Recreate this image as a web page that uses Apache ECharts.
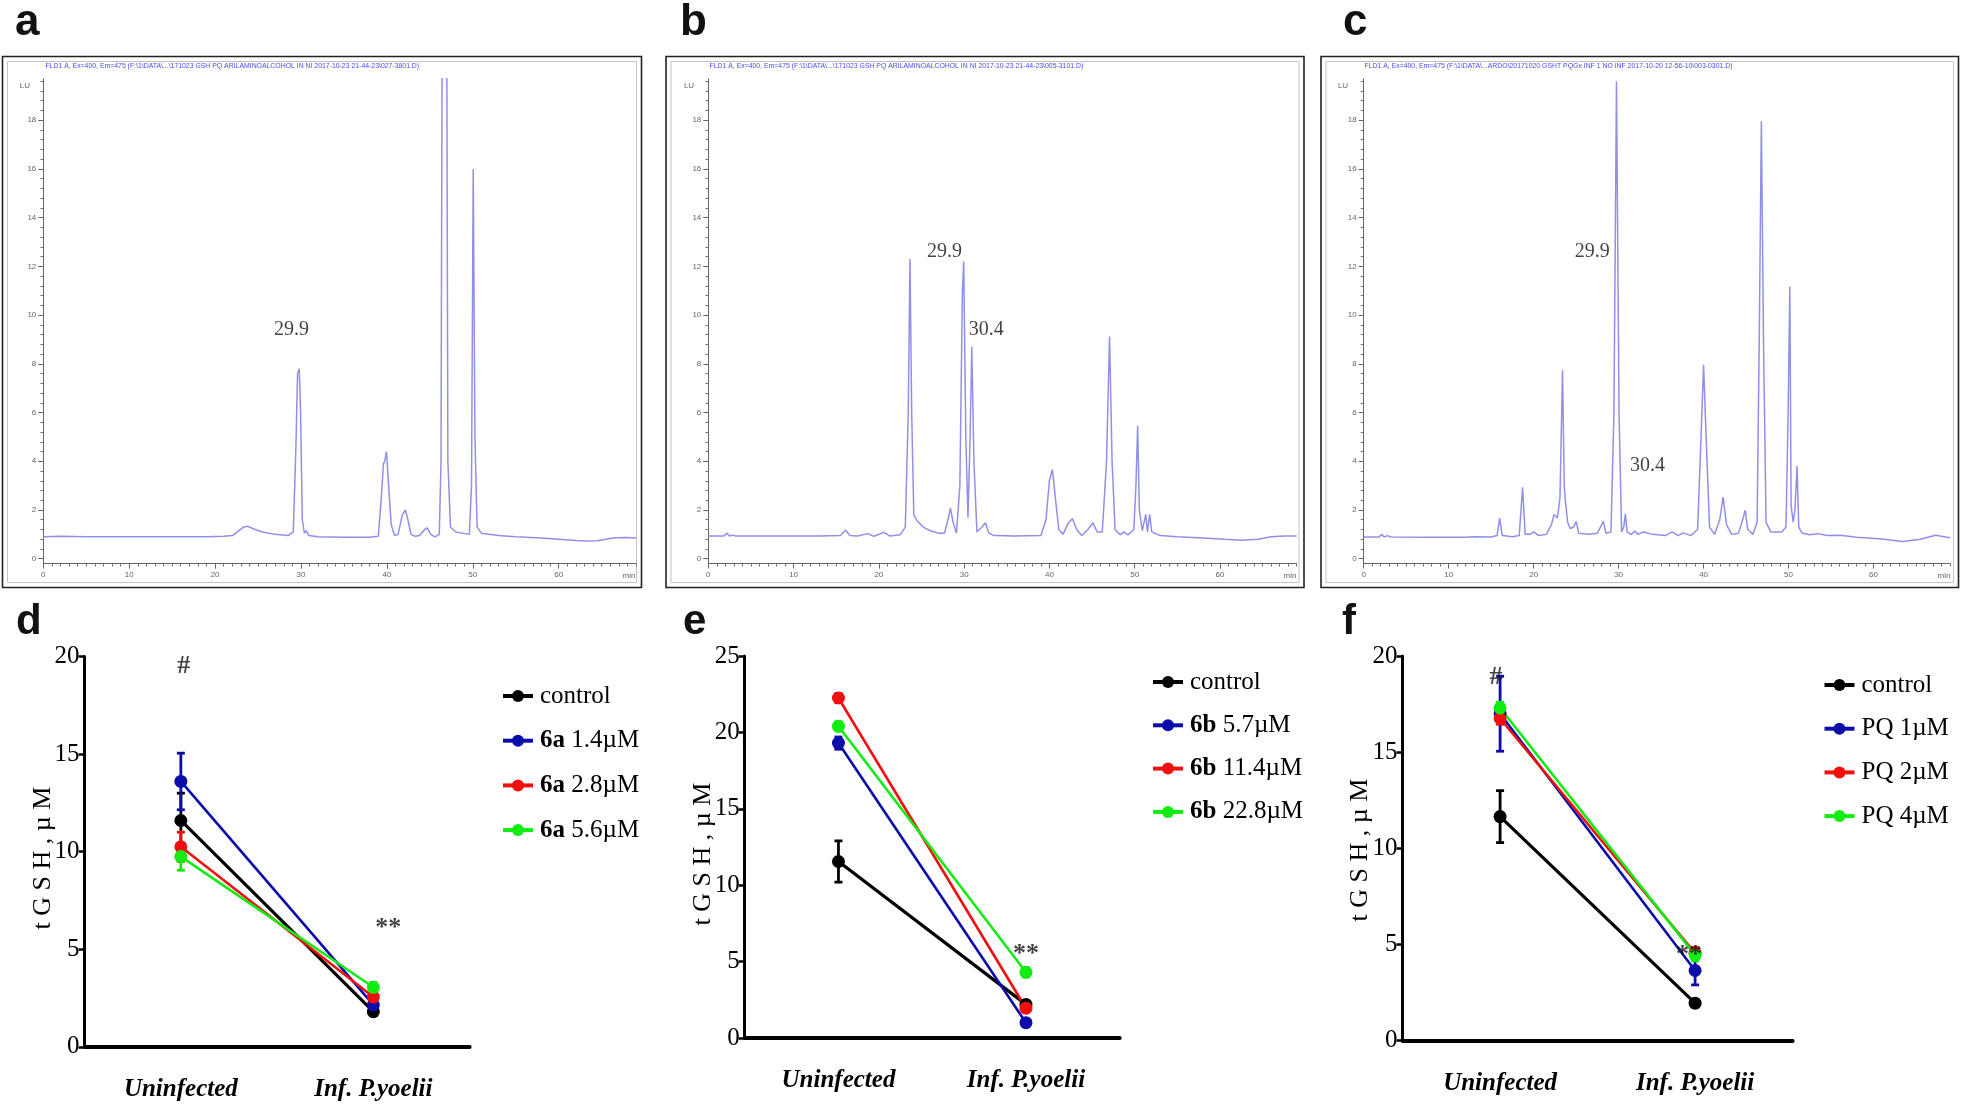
<!DOCTYPE html>
<html><head><meta charset="utf-8">
<script src="https://cdn.jsdelivr.net/npm/echarts@6/dist/echarts.min.js"></script>
<style>html,body{margin:0;padding:0;background:#fff}#c{width:1961px;height:1109px}</style>
</head><body><div id="c"></div>
<script>
// ---------- chromatogram traces: [time (min), signal (LU)] ----------
const chromA = [[0,0.9],[2,0.92],[5,0.9],[10,0.9],[15,0.9],[19,0.9],[21,0.92],[22,0.95],[22.6,1.1],[23.3,1.3],[23.8,1.33],[24.5,1.22],[25.5,1.1],[27,1.0],[28.5,0.95],[29.1,1.1],[29.4,4.5],[29.6,7.6],[29.8,7.8],[29.95,6],[30.15,1.6],[30.4,1.05],[30.6,1.15],[30.9,0.95],[32,0.9],[35,0.88],[38,0.88],[39,0.92],[39.35,2.5],[39.6,3.9],[39.75,4.0],[39.95,4.4],[40.2,3.0],[40.5,1.4],[40.9,0.95],[41.3,1.0],[41.8,1.8],[42.15,2.0],[42.45,1.6],[42.8,1.0],[43.3,0.92],[43.8,0.95],[44.4,1.2],[44.7,1.27],[45.1,1.0],[45.6,0.9],[46.1,1.0],[46.3,4],[46.45,24],[46.95,24],[47.1,4],[47.4,1.3],[48,1.1],[49.6,1.0],[49.85,3],[50.05,16],[50.25,5],[50.5,1.3],[51,1.05],[53,0.95],[55,0.9],[58,0.85],[60,0.8],[62,0.75],[63.2,0.73],[64.5,0.74],[65.5,0.8],[66.5,0.86],[68,0.87],[69,0.85]];
const chromB = [[0,0.93],[1.8,0.93],[2.2,1.05],[2.5,0.93],[2.8,0.97],[3.2,0.93],[8,0.93],[13,0.93],[15.5,0.95],[16.1,1.18],[16.6,0.95],[17.5,0.93],[18.7,1.03],[19.4,0.92],[20.6,1.08],[21.3,0.93],[22.5,0.98],[23.1,1.3],[23.45,6],[23.65,12.3],[23.85,6],[24.1,1.8],[24.5,1.55],[25.2,1.3],[26,1.15],[27,1.05],[27.7,1.05],[28.1,1.6],[28.4,2.08],[28.7,1.5],[29.1,1.05],[29.5,3],[29.8,11],[29.95,12.2],[30.2,5],[30.45,1.68],[30.7,5],[30.9,8.7],[31.15,4],[31.5,1.1],[32.1,1.3],[32.5,1.48],[32.9,1.05],[33.5,0.95],[36,0.93],[39,0.95],[39.6,1.6],[40.0,3.2],[40.35,3.66],[40.7,2.5],[41.1,1.2],[41.6,1.0],[42.2,1.45],[42.7,1.65],[43.2,1.2],[43.8,0.95],[44.5,1.2],[45.1,1.47],[45.6,1.1],[46.2,1.1],[46.7,4],[47.05,9.12],[47.35,4],[47.7,1.2],[48.3,0.98],[48.7,1.1],[49.2,0.98],[49.9,1.2],[50.15,3],[50.35,5.46],[50.55,2],[50.9,1.15],[51.3,1.82],[51.5,1.1],[51.75,1.82],[52.0,1.1],[53,0.95],[55,0.9],[58,0.85],[60.5,0.8],[62.6,0.76],[64.5,0.8],[66,0.9],[67.5,0.93],[69,0.93]];
const chromC = [[0,0.89],[1.8,0.89],[2.1,1.0],[2.4,0.89],[2.8,0.95],[3.2,0.89],[8,0.88],[12,0.88],[13,0.9],[15,0.89],[15.7,0.95],[16.0,1.67],[16.3,0.95],[17.5,0.9],[18.3,0.95],[18.7,2.93],[19.0,1.0],[19.6,1.0],[20.0,1.1],[20.6,0.95],[21.5,1.0],[22.1,1.4],[22.4,1.81],[22.8,1.67],[23.1,2.5],[23.4,7.74],[23.6,3],[23.75,2.31],[24.0,1.5],[24.3,1.24],[24.7,1.3],[25.0,1.53],[25.3,1.05],[26.5,1.0],[27.5,1.05],[28.2,1.53],[28.5,1.05],[29.1,1.1],[29.45,6],[29.75,19.6],[30.05,6],[30.35,1.1],[30.6,1.3],[30.8,1.84],[31.0,1.1],[31.5,1.0],[31.9,1.14],[32.3,1.0],[32.9,1.1],[34,1.0],[35.5,0.95],[36.3,1.1],[37.0,0.95],[37.6,1.06],[38.5,0.95],[39.3,1.2],[39.7,5],[40.0,7.96],[40.3,5],[40.7,1.3],[41.3,1.0],[41.9,1.6],[42.3,2.53],[42.7,1.4],[43.3,1.0],[44.1,1.05],[44.6,1.6],[44.9,1.99],[45.2,1.2],[45.8,1.0],[46.3,1.5],[46.55,9],[46.8,17.96],[47.05,9],[47.35,1.5],[47.9,1.1],[49.2,1.1],[49.7,1.3],[49.95,6],[50.15,11.17],[50.3,2.17],[50.55,1.5],[50.75,2],[51.0,3.81],[51.2,1.3],[51.6,1.05],[52.5,0.98],[53.5,1.03],[54.5,0.95],[56.1,0.96],[58,0.88],[61,0.81],[63.4,0.71],[65.5,0.8],[67.3,0.96],[69,0.86]];

const chromXTicks = [0,10,20,30,40,50,60];
const chromYTicks = [0,2,4,6,8,10,12,14,16,18];
const peakLabelsA = [[28.9, 9.4, '29.9']];
const peakLabelsB = [[27.7, 12.6, '29.9'], [32.6, 9.4, '30.4']];
const peakLabelsC = [[26.9, 12.6, '29.9'], [33.4, 3.8, '30.4']];
const headerA = 'FLD1 A, Ex=400, Em=475 (F:\\1\\DATA\\...\\171023 GSH PQ ARILAMINOALCOHOL IN NI 2017-10-23 21-44-23\\027-3801.D)';
const headerB = 'FLD1 A, Ex=400, Em=475 (F:\\1\\DATA\\...\\171023 GSH PQ ARILAMINOALCOHOL IN NI 2017-10-23 21-44-23\\005-3101.D)';
const headerC = 'FLD1 A, Ex=400, Em=475 (F:\\1\\DATA\\...ARDO\\20171020 GSHT PQGx INF 1 NO INF 2017-10-20 12-56-10\\003-0301.D)';

// ---------- tGSH panels ----------
const categories = ['Uninfected', 'Inf. P.yoelii'];
const yTitle = 't G S H , \u00b5 M';

const legendD = ['control', '6a 1.4\u00b5M', '6a 2.8\u00b5M', '6a 5.6\u00b5M'];
const meanD = [[11.6, 1.8], [13.6, 2.15], [10.25, 2.55], [9.75, 3.05]];
const errD  = [[1.4, 0.2], [1.45, 0.25], [0.75, 0.25], [0.7, 0.25]];
const annD  = [['#', 0, 19.5], ['**', 1, 6.1]];

const legendE = ['control', '6b 5.7\u00b5M', '6b 11.4\u00b5M', '6b 22.8\u00b5M'];
const meanE = [[11.55, 2.2], [19.3, 1.0], [22.25, 1.95], [20.4, 4.3]];
const errE  = [[1.35, 0.2], [0.4, 0.2], [0.3, 0.25], [0.3, 0.3]];
const annE  = [['**', 1, 5.45]];

const legendF = ['control', 'PQ 1\u00b5M', 'PQ 2\u00b5M', 'PQ 4\u00b5M'];
const meanF = [[11.65, 1.95], [17.0, 3.65], [16.75, 4.55], [17.3, 4.45]];
const errF  = [[1.35, 0.2], [1.95, 0.75], [0.3, 0.3], [0.3, 0.3]];
const annF  = [['#', 0, 18.9], ['**', 1, 4.45]];

// ---------- styling / layout ----------
const SERIF = 'Liberation Serif';
const SANS = 'Liberation Sans';
const seriesColors = ['#000000', '#0c0caa', '#f01010', '#12ec12'];
const lineWidths = [3.2, 2.6, 2.6, 2.6];
const chromColor = '#9090e8';
const chromTop = 78.8, chromBottom = 563.6;
const chromLayout = [
  {data: chromA, labels: peakLabelsA, header: headerA, left: 43.3, right: 636, frame: [2.5, 56.5, 639, 531], letter: 'a', lx: 15, hx: 45.4, lux: 24.8, minx: 629},
  {data: chromB, labels: peakLabelsB, header: headerB, left: 708.3, right: 1296.7, frame: [666, 56.5, 638, 531], letter: 'b', lx: 680, hx: 709.5, lux: 689, minx: 1290},
  {data: chromC, labels: peakLabelsC, header: headerC, left: 1363.7, right: 1950, frame: [1321, 56.5, 637.5, 531], letter: 'c', lx: 1343, hx: 1364.5, lux: 1343, minx: 1944}
];
const panelLayout = [
  {key: 'd', legend: legendD, mean: meanD, err: errD, ann: annD, annDx: [3, 15], ymax: 20, left: 84.6, top: 656.6, width: 385, height: 390.2, legLeft: 496, legTop: 678, legGap: 18.7, yt: [43, 858], lx: 16, boldPrefix: true},
  {key: 'e', legend: legendE, mean: meanE, err: errE, ann: annE, annDx: [0], ymax: 25, left: 744.7, top: 656, width: 375, height: 382, legLeft: 1146, legTop: 664, legGap: 17.3, yt: [703, 854], lx: 683, boldPrefix: true},
  {key: 'f', legend: legendF, mean: meanF, err: errF, ann: annF, annDx: [-4, -6], ymax: 20, left: 1402.6, top: 656, width: 390, height: 384.7, legLeft: 1817.5, legTop: 667, legGap: 17.7, yt: [1360, 850], lx: 1342, boldPrefix: false}
];

const minorX = [];
for (let t = 0; t <= 69; t++) if (t % 10 !== 0) minorX.push(t);
const minorY = [];
for (let k = 0; k <= 49; k++) if (k % 5 !== 0) minorY.push(+(k * 0.4).toFixed(1));

const grids = [], xAxes = [], yAxes = [], series = [], legends = [], graphics = [];

chromLayout.forEach(c => grids.push({left: c.left, top: chromTop, width: c.right - c.left, height: chromBottom - chromTop}));
panelLayout.forEach(p => grids.push({left: p.left, top: p.top, width: p.width, height: p.height}));

chromLayout.forEach((c, i) => {
  xAxes.push({gridIndex: i, type: 'value', min: 0, max: 69, position: 'bottom',
    axisLine: {onZero: false, lineStyle: {color: '#666', width: 1}},
    axisTick: {customValues: chromXTicks, length: 5, lineStyle: {color: '#666'}},
    axisLabel: {customValues: chromXTicks, fontSize: 8, color: '#666', margin: 7, fontFamily: SANS},
    splitLine: {show: false}});
  yAxes.push({gridIndex: i, type: 'value', min: -0.2, max: 19.7, position: 'left',
    axisLine: {show: true, onZero: false, lineStyle: {color: '#666', width: 1}},
    axisTick: {show: true, customValues: chromYTicks, length: 5, lineStyle: {color: '#666'}},
    axisLabel: {customValues: chromYTicks, fontSize: 8, color: '#666', margin: 7, fontFamily: SANS},
    splitLine: {show: false}});
});
chromLayout.forEach((c, i) => {
  xAxes.push({gridIndex: i, type: 'value', min: 0, max: 69, position: 'bottom',
    axisLine: {show: false, onZero: false}, axisLabel: {show: false},
    axisTick: {show: true, customValues: minorX, length: 3, lineStyle: {color: '#777'}},
    splitLine: {show: false}});
  yAxes.push({gridIndex: i, type: 'value', min: -0.2, max: 19.7, position: 'left',
    axisLine: {show: false, onZero: false}, axisLabel: {show: false},
    axisTick: {show: true, customValues: minorY, length: 3, lineStyle: {color: '#777'}},
    splitLine: {show: false}});
});
chromLayout.forEach((c, i) => {
  series.push({type: 'line', xAxisIndex: i, yAxisIndex: i, data: c.data, showSymbol: false, symbol: 'none',
    lineStyle: {color: chromColor, width: 1.5}, clip: true, silent: true, z: 2});
  series.push({type: 'scatter', xAxisIndex: i, yAxisIndex: i, symbolSize: 0, silent: true, z: 5,
    data: c.labels.map(l => ({value: [l[0], l[1]], label: {show: true, formatter: l[2], position: 'inside',
      fontFamily: SERIF, fontSize: 20, color: '#111'}}))});
  const [fx, fy, fw, fh] = c.frame;
  graphics.push({type: 'rect', shape: {x: fx, y: fy, width: fw, height: fh}, style: {fill: 'none', stroke: '#222', lineWidth: 1.6}, silent: true});
  graphics.push({type: 'rect', shape: {x: fx + 5, y: fy + 5, width: fw - 10, height: fh - 10}, style: {fill: 'none', stroke: '#c4c4c4', lineWidth: 1}, silent: true});
  graphics.push({type: 'text', x: c.hx, y: 65.7, scaleX: 0.86, style: {text: c.header, fill: '#4a4af0', font: '8px ' + SANS, verticalAlign: 'middle', align: 'left'}, silent: true});
  graphics.push({type: 'text', x: c.lux, y: 85.8, style: {text: 'LU', fill: '#666', font: '8px ' + SANS, verticalAlign: 'middle', align: 'center'}, silent: true});
  graphics.push({type: 'text', x: c.minx, y: 576, style: {text: 'min', fill: '#666', font: '8px ' + SANS, verticalAlign: 'middle', align: 'center'}, silent: true});
  graphics.push({type: 'text', x: c.lx, y: 23, style: {text: c.letter, fill: '#111', font: 'bold 44px ' + SANS, verticalAlign: 'middle', align: 'left'}, silent: true});
});

function errRender(params, api) {
  const x = api.value(0), lo = api.value(2), hi = api.value(3);
  const pHi = api.coord([x, hi]), pLo = api.coord([x, lo]);
  const color = api.visual('color');
  const cap = 4;
  const st = {stroke: color, lineWidth: 2.8};
  return {type: 'group', children: [
    {type: 'line', shape: {x1: pHi[0], y1: pHi[1], x2: pLo[0], y2: pLo[1]}, style: st},
    {type: 'line', shape: {x1: pHi[0] - cap, y1: pHi[1], x2: pHi[0] + cap, y2: pHi[1]}, style: st},
    {type: 'line', shape: {x1: pLo[0] - cap, y1: pLo[1], x2: pLo[0] + cap, y2: pLo[1]}, style: st}
  ]};
}

panelLayout.forEach((p, j) => {
  const gi = 3 + j;
  const axIdx = 6 + j;
  xAxes.push({gridIndex: gi, type: 'category', data: categories, boundaryGap: true, position: 'bottom',
    axisLine: {lineStyle: {color: '#000', width: 4}},
    axisTick: {alignWithLabel: true, length: 10, lineStyle: {color: '#000', width: 3}},
    axisLabel: {fontFamily: SERIF, fontStyle: 'italic', fontWeight: 'bold', fontSize: 25, color: '#000', margin: 30}});
  yAxes.push({gridIndex: gi, type: 'value', min: 0, max: p.ymax, interval: 5, position: 'left',
    axisLine: {show: true, lineStyle: {color: '#000', width: 3}},
    axisTick: {show: true, length: 6, lineStyle: {color: '#000', width: 2.5}},
    axisLabel: {fontFamily: SERIF, fontSize: 25, color: '#000', margin: 5},
    splitLine: {show: false}});
  const names = p.legend.map(n => p.key + ':' + n);
  p.mean.forEach((vals, s) => {
    const e = p.err[s];
    series.push({type: 'custom', xAxisIndex: axIdx, yAxisIndex: axIdx, renderItem: errRender,
      itemStyle: {color: seriesColors[s]}, encode: {x: 0, y: 1}, silent: true, z: 3,
      data: vals.map((v, k) => [k, v, v - e[k], v + e[k]])});
    series.push({type: 'line', name: names[s], xAxisIndex: axIdx, yAxisIndex: axIdx, data: vals,
      symbol: 'circle', symbolSize: 13, showSymbol: true,
      itemStyle: {color: seriesColors[s]}, lineStyle: {color: seriesColors[s], width: lineWidths[s]}, z: 3});
  });
  series.push({type: 'scatter', xAxisIndex: axIdx, yAxisIndex: axIdx, symbolSize: 0, silent: true, z: 6,
    data: p.ann.map((a, k) => ({value: [a[1], a[2]], label: {show: true, formatter: a[0], position: 'inside',
      offset: [p.annDx[k], 0], fontFamily: SERIF, fontWeight: 'bold', fontSize: 26, color: '#111'}}))});
  legends.push({orient: 'vertical', left: p.legLeft, top: p.legTop, itemGap: p.legGap, itemWidth: 30, itemHeight: 15,
    data: names, selectedMode: false,
    lineStyle: {width: 4},
    formatter: name => {
      const t = name.slice(2);
      if (p.boldPrefix && t !== 'control') {
        const sp = t.indexOf(' ');
        return '{b|' + t.slice(0, sp) + '} {n|' + t.slice(sp + 1) + '}';
      }
      return '{n|' + t + '}';
    },
    textStyle: {fontFamily: SERIF, fontSize: 25, lineHeight: 26, color: '#000', padding: [0, 0, 0, 2],
      rich: {b: {fontFamily: SERIF, fontSize: 25, fontWeight: 'bold', color: '#000', lineHeight: 26},
             n: {fontFamily: SERIF, fontSize: 25, color: '#000', lineHeight: 26}}}});
  graphics.push({type: 'text', x: p.yt[0], y: p.yt[1], rotation: Math.PI / 2,
    style: {text: yTitle, fill: '#000', font: '26px ' + SERIF, align: 'center', verticalAlign: 'middle'}, silent: true});
  graphics.push({type: 'text', x: p.lx, y: 622, style: {text: p.key, fill: '#111', font: 'bold 42px ' + SANS, align: 'left', verticalAlign: 'middle'}, silent: true});
});

const chart = echarts.init(document.getElementById('c'), null, {renderer: 'canvas'});
chart.setOption({
  animation: false,
  backgroundColor: '#ffffff',
  grid: grids.map(g => Object.assign({outerBoundsMode: 'none', containLabel: false}, g)),
  xAxis: xAxes,
  yAxis: yAxes,
  legend: legends,
  series: series,
  graphic: graphics
});
</script></body></html>
